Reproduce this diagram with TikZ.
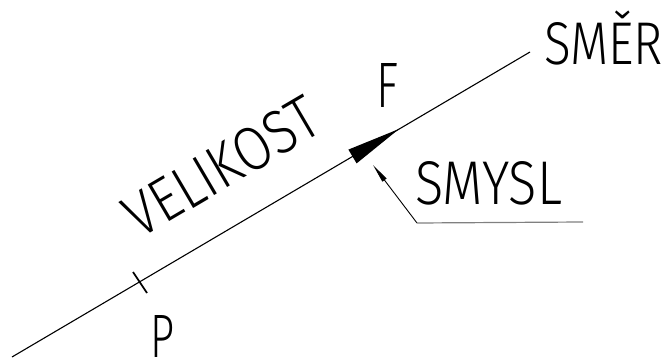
\documentclass[tikz,border=0pt]{standalone}
\usepackage{fontspec}
\usepackage{graphicx}
\usetikzlibrary{arrows.meta}
\newfontfamily\cadfont{Fira Sans Light}
\definecolor{leadergray}{RGB}{128,128,128}
\begin{document}
\begin{tikzpicture}[x=1pt,y=-1pt,
  cadtext/.style={inner sep=0pt,outer sep=0pt,font=\cadfont\fontsize{60}{60}\selectfont},
  mainline/.style={line width=1.1pt,black},
  leader/.style={line width=0.9pt,black}]
\useasboundingbox (0,0) rectangle (667,358);
% main line
\coordinate (A) at (12,357);
\coordinate (B) at (530,52);
\draw[mainline] (A) -- (B);
% tick at P
\coordinate (tk1) at (133,272);
\coordinate (tk2) at (147,293);
\draw[line width=1.8pt] (tk1) -- (tk2);
% arrowhead F
\coordinate (tip) at (399,129);
\coordinate (b1) at (348.4,149.6);
\coordinate (b2) at (356.6,163.4);
\fill (tip) -- (b1) -- (b2) -- cycle;
% leader for SMYSL
\coordinate (lt) at (373,165);
\coordinate (lk) at (417,223);
\coordinate (le) at (583,222);
\draw[leader,-{Triangle[length=19pt,width=5pt]}] (lk) -- (lt);
\draw[line width=1.2pt,leadergray] (lk) -- (le);
% texts
\node[cadtext,anchor=south west] (smer) at (544,65) {\resizebox{119pt}{42pt}{SM\smash{Ě}R}};
\node[cadtext,anchor=south west] (smysl) at (415,205) {\resizebox{147pt}{43pt}{SMYSL}};
\node[cadtext,anchor=south west] (f) at (376,108) {\resizebox{22pt}{44pt}{F}};
\node[cadtext,anchor=south west] (p) at (150,357) {\resizebox{24pt}{42pt}{P}};
\node[cadtext,anchor=south west,rotate=30.4] (vel) at (140,240) {\resizebox{215pt}{43pt}{VELIKOST}};
\end{tikzpicture}
\end{document}
